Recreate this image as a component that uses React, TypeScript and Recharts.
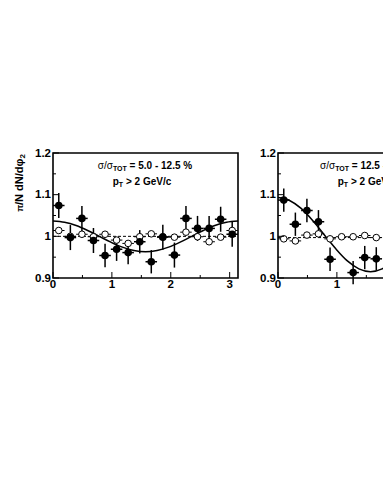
import React from 'react'
import { ComposedChart, Scatter, Line, XAxis, YAxis, ErrorBar, ReferenceArea } from 'recharts'

// bin centers in dphi (16 bins over 0..pi)
const binX = [0.098, 0.295, 0.491, 0.687, 0.884, 1.08, 1.276, 1.473, 1.669, 1.865, 2.062, 2.258, 2.454, 2.651, 2.847, 3.043]
const binHalfWidth = 0.098

// left panel: 5.0 - 12.5 %
const leftFilled = [1.074, 0.997, 1.043, 0.99, 0.954, 0.969, 0.961, 0.987, 0.939, 0.998, 0.955, 1.043, 1.019, 1.019, 1.041, 1.005]
const leftFilledErr = [0.03, 0.03, 0.03, 0.03, 0.028, 0.028, 0.028, 0.028, 0.028, 0.03, 0.03, 0.03, 0.03, 0.03, 0.03, 0.03]
const leftOpen = [1.014, 1.0, 1.005, 0.999, 1.005, 0.991, 0.983, 0.999, 1.006, 0.999, 0.998, 1.01, 0.999, 0.987, 0.998, 1.014]
const leftOpenErr = [0.006, 0.006, 0.006, 0.006, 0.006, 0.006, 0.006, 0.006, 0.006, 0.006, 0.006, 0.006, 0.006, 0.006, 0.006, 0.006]

// right panel: 12.5 - ... % (only the visible part)
const rightFilledX = [0.098, 0.295, 0.491, 0.687, 0.884, 1.276, 1.473, 1.669]
const rightFilled = [1.087, 1.029, 1.062, 1.035, 0.945, 0.913, 0.949, 0.946]
const rightFilledErr = [0.028, 0.028, 0.028, 0.028, 0.028, 0.028, 0.028, 0.028]
const rightOpenX = [0.098, 0.295, 0.491, 0.687, 0.884, 1.08, 1.276, 1.473, 1.669]
const rightOpen = [0.994, 0.989, 1.003, 1.006, 0.994, 0.999, 0.999, 1.002, 0.997]
const rightOpenErr = [0.006, 0.006, 0.006, 0.006, 0.006, 0.006, 0.006, 0.006, 0.006]

// fit curves
const curveX = [0, 0.196, 0.393, 0.589, 0.785, 0.982, 1.178, 1.374, 1.571, 1.767, 1.963, 2.16, 2.356, 2.553, 2.749, 2.945, 3.1416]
const leftCurve = [1.037, 1.034, 1.026, 1.014, 1.0, 0.986, 0.974, 0.966, 0.963, 0.966, 0.974, 0.986, 1.0, 1.014, 1.026, 1.034, 1.037]
const rightCurve = [1.093, 1.086, 1.067, 1.038, 1.004, 0.97, 0.941, 0.922, 0.915, 0.922, 0.941, 0.97, 1.004, 1.038, 1.067, 1.086, 1.093]
const dashX = [0, 3.1416]
const leftDash = [1.0, 1.0]
const rightDash = [0.997, 0.997]

const leftXTicks = [0, 0.5, 1, 1.5, 2, 2.5, 3]
const rightXTicks = [0, 0.5, 1, 1.5]
const yTicks = [0.9, 0.95, 1.0, 1.05, 1.1, 1.15, 1.2]

const FONT = '"Liberation Sans", Arial, Helvetica, sans-serif'
const PLOT_L = 53
const PLOT_B = 278

const isMajor = (v: number, step: number) => Math.abs(v / step - Math.round(v / step)) < 1e-6

const renderYTick = (props: any) => {
  const { y, payload } = props
  const v = payload.value
  const major = isMajor(v, 0.1)
  const label = Math.abs(v - 1) < 1e-6 ? '1' : v.toFixed(1)
  return (
    <g key={`y-${v}`}>
      <line x1={PLOT_L} x2={PLOT_L + (major ? 6 : 3)} y1={y} y2={y} stroke="#000" strokeWidth={1} />
      {major && (
        <text x={51} y={y + 3.5} textAnchor="end" fontFamily={FONT} fontWeight="bold" fontSize={11.5} fill="#000">
          {label}
        </text>
      )}
    </g>
  )
}

const renderXTick = (props: any) => {
  const { x, payload } = props
  const v = payload.value
  const major = isMajor(v, 1)
  return (
    <g key={`x-${v}`}>
      <line x1={x} x2={x} y1={PLOT_B} y2={PLOT_B - (major ? 6 : 3)} stroke="#000" strokeWidth={1} />
      {major && (
        <text x={x} y={PLOT_B + 9.5} textAnchor="middle" fontFamily={FONT} fontWeight="bold" fontSize={11.5} fill="#000">
          {v}
        </text>
      )}
    </g>
  )
}

const filledDot = (p: any) => <circle cx={p.cx} cy={p.cy} r={3.8} fill="#000" />
const openDot = (p: any) => <circle cx={p.cx} cy={p.cy} r={3.3} fill="#fff" stroke="#000" strokeWidth={1} />

interface PanelProps {
  filledX: number[]
  filled: number[]
  filledErr: number[]
  openX: number[]
  open: number[]
  openErr: number[]
  curve: number[]
  dash: number[]
  xTicks: number[]
}

function Panel({ filledX, filled, filledErr, openX, open, openErr, curve, dash, xTicks }: PanelProps) {
  const filledData = filledX.map((x, i) => ({ x, y: filled[i], ey: filledErr[i], ex: binHalfWidth }))
  const openData = openX.map((x, i) => ({ x, y: open[i], ey: openErr[i], ex: binHalfWidth }))
  const curveData = curveX.map((x, i) => ({ x, y: curve[i] }))
  const dashData = dashX.map((x, i) => ({ x, y: dash[i] }))

  // plot area: x 53..238, y 153..278 inside a 250x300 svg
  return (
    <ComposedChart width={250} height={300} margin={{ top: 153, left: PLOT_L - 30, right: 12, bottom: 2 }}>
      <XAxis
        dataKey="x"
        type="number"
        domain={[0, 3.1416]}
        allowDataOverflow
        ticks={xTicks}
        interval={0}
        height={20}
        axisLine={false}
        tickLine={false}
        tick={renderXTick}
      />
      <YAxis
        type="number"
        domain={[0.9, 1.2]}
        allowDataOverflow
        ticks={yTicks}
        interval={0}
        width={30}
        axisLine={false}
        tickLine={false}
        tick={renderYTick}
      />
      <ReferenceArea x1={0} x2={3.1416} y1={0.9} y2={1.2} fill="none" stroke="#000" strokeWidth={1.6} ifOverflow="visible" />
      <Line data={dashData} dataKey="y" type="linear" stroke="#000" strokeWidth={1} strokeDasharray="3 2" dot={false} isAnimationActive={false} />
      <Line data={curveData} dataKey="y" type="monotone" stroke="#000" strokeWidth={1.5} dot={false} isAnimationActive={false} />
      <Scatter data={openData} dataKey="y" shape={openDot} isAnimationActive={false}>
        <ErrorBar dataKey="ey" direction="y" width={0} stroke="#000" strokeWidth={1} />
        <ErrorBar dataKey="ex" direction="x" width={0} stroke="#000" strokeWidth={1} />
      </Scatter>
      <Scatter data={filledData} dataKey="y" shape={filledDot} isAnimationActive={false}>
        <ErrorBar dataKey="ey" direction="y" width={0} stroke="#000" strokeWidth={1.5} />
        <ErrorBar dataKey="ex" direction="x" width={0} stroke="#000" strokeWidth={1.5} />
      </Scatter>
    </ComposedChart>
  )
}

function Title({ cx, range }: { cx: number; range: string }) {
  return (
    <g fontFamily={FONT} fontWeight="bold" fontSize={10} fill="#000">
      <text x={cx} y={168.5} textAnchor="middle">
        <tspan fontWeight="normal">σ/σ</tspan>
        <tspan fontSize={7} dy={2}>TOT</tspan>
        <tspan dy={-2}>{` = ${range}`}</tspan>
      </text>
      <text x={cx - 3} y={185} textAnchor="middle">
        p<tspan fontSize={7} dy={2}>T</tspan>
        <tspan dy={-2}> &gt; 2 GeV/c</tspan>
      </text>
    </g>
  )
}

export default function App() {
  return (
    <div style={{ position: 'absolute', left: 0, top: 0, width: 383, height: 495, overflow: 'hidden', background: '#fff' }}>
      <div style={{ position: 'absolute', left: 0, top: 0 }}>
        <Panel
          filledX={binX}
          filled={leftFilled}
          filledErr={leftFilledErr}
          openX={binX}
          open={leftOpen}
          openErr={leftOpenErr}
          curve={leftCurve}
          dash={leftDash}
          xTicks={leftXTicks}
        />
      </div>
      <div style={{ position: 'absolute', left: 225, top: 0 }}>
        <Panel
          filledX={rightFilledX}
          filled={rightFilled}
          filledErr={rightFilledErr}
          openX={rightOpenX}
          open={rightOpen}
          openErr={rightOpenErr}
          curve={rightCurve}
          dash={rightDash}
          xTicks={rightXTicks}
        />
      </div>
      <svg width={383} height={495} style={{ position: 'absolute', left: 0, top: 0, pointerEvents: 'none' }}>
        <text
          x={22.5}
          y={183}
          transform="rotate(-90 22.5 183)"
          textAnchor="middle"
          fontFamily={FONT}
          fontWeight="bold"
          fontSize={11}
          fill="#000"
        >
          <tspan fontSize={9}>π</tspan>/N dN/dφ<tspan fontSize={8} dy={2}>2</tspan>
        </text>
        <Title cx={145} range="5.0 - 12.5 %" />
        <Title cx={370} range="12.5 - 20.0 %" />
      </svg>
    </div>
  )
}
